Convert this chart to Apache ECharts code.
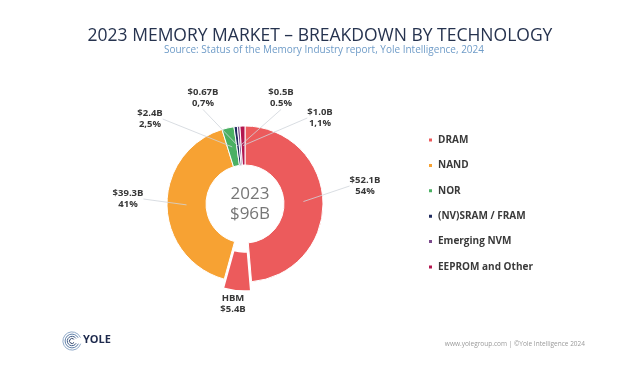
<!DOCTYPE html>
<html>
<head>
<meta charset="utf-8">
<script src="https://cdn.jsdelivr.net/npm/echarts@6/dist/echarts.min.js"></script>
<style>
html, body { margin: 0; padding: 0; background: #fff; }
#chart { width: 620px; height: 366px; }
</style>
</head>
<body>
<div id="chart"></div>
<script>
// market breakdown, values in $B
const categories = ['DRAM', 'NAND', 'NOR', '(NV)SRAM / FRAM', 'Emerging NVM', 'EEPROM and Other']
const revenueB = [52.1, 39.3, 2.4, 0.67, 0.5, 1.0]
const revenueText = ['$52.1B', '$39.3B', '$2.4B', '$0.67B', '$0.5B', '$1.0B']
const shareText = ['54%', '41%', '2,5%', '0,7%', '0.5%', '1,1%']
const hbmName = 'HBM'
const hbmB = 5.4
const hbmText = '$5.4B'
const yearText = '2023'
const totalText = '$96B'

const colors = ['#ec5b5c', '#f7a233', '#4bb063', '#1f2b5e', '#7b4a8c', '#b3164f']

// pie geometry (px)
const cx = 245, cy = 204, rIn = 39, rOut = 78
const rMid = (rIn + rOut) / 2

// where each label sits (label centre)
const labelSpots = {
  'DRAM': [365, 186],
  'HBM': [233, 304],
  'NAND': [128, 199],
  'NOR': [150, 119],
  '(NV)SRAM / FRAM': [203, 98],
  'Emerging NVM': [281, 98],
  'EEPROM and Other': [320, 118]
}

// DRAM slice drawn without HBM, HBM pulled out next to it
function makeSlices(clear) {
  const out = [
    { name: categories[0], value: +(revenueB[0] - hbmB).toFixed(2), txt: revenueText[0] + '\n' + shareText[0] },
    { name: hbmName, value: hbmB, selected: !clear, labelLine: { show: false }, txt: hbmName + '\n' + hbmText }
  ]
  for (let i = 1; i < categories.length; i++) {
    out.push({ name: categories[i], value: revenueB[i], txt: revenueText[i] + '\n' + shareText[i] })
  }
  out.forEach((d, i) => {
    const c = i < 2 ? colors[0] : colors[i - 1]
    d.itemStyle = { color: clear ? 'rgba(0,0,0,0)' : c }
  })
  return out
}
const slices = makeSlices(false)
const overlay = makeSlices(true)

const pieBase = {
  type: 'pie',
  center: [cx, cy],
  startAngle: 90,
  clockwise: true,
  selectedMode: 'single',
  selectedOffset: 9,
  avoidLabelOverlap: false,
  emphasis: { disabled: true }
}

const chart = echarts.init(document.getElementById('chart'))
chart.setOption({
  animation: false,
  title: [
    {
      text: '2023 MEMORY MARKET – BREAKDOWN BY TECHNOLOGY',
      left: 315, top: 22, textAlign: 'center',
      textStyle: { fontFamily: '"Open Sans", sans-serif', fontSize: 17.5, fontWeight: 500, color: '#26334f' }
    },
    {
      text: 'Source: Status of the Memory Industry report, Yole Intelligence, 2024',
      left: 319, top: 40, textAlign: 'center',
      textStyle: { fontFamily: '"Open Sans", sans-serif', fontSize: 10, fontWeight: 'normal', color: '#6f9cc8' }
    },
    {
      text: yearText + '\n' + totalText,
      left: cx, top: 179, textAlign: 'center',
      textStyle: { fontFamily: '"Open Sans", sans-serif', fontSize: 17, lineHeight: 20, fontWeight: 'normal', color: '#767676' }
    }
  ],
  legend: {
    orient: 'vertical',
    left: 427, top: 134,
    padding: 0,
    data: categories,
    icon: 'rect',
    itemWidth: 5, itemHeight: 5,
    itemGap: 13.4,
    selectedMode: false,
    textStyle: { fontFamily: '"Open Sans", sans-serif', fontSize: 10, lineHeight: 12, fontWeight: 'bold', color: '#3a3a3a' }
  },
  series: [
    Object.assign({}, pieBase, {
      z: 2,
      radius: [rIn, rOut],
      itemStyle: { borderColor: '#fff', borderWidth: 1 },
      select: { itemStyle: { borderColor: '#fff', borderWidth: 1.5 } },
      label: { show: false },
      labelLine: { show: false },
      data: slices
    }),
    // see-through copy reaching only to mid-ring, drawn on top, so the leader lines end inside the ring
    Object.assign({}, pieBase, {
      z: 5,
      radius: [rIn, rMid],
      silent: true,
      itemStyle: { borderWidth: 0 },
      label: {
        position: 'outside',
        formatter: p => overlay[p.dataIndex].txt,
        fontFamily: '"Open Sans", sans-serif',
        fontSize: 9.5, lineHeight: 11.5, fontWeight: 'bold', color: '#383838',
        align: 'center'
      },
      labelLine: { show: true, length: 0, length2: 0, lineStyle: { color: '#cfd4db', width: 0.8 } },
      labelLayout: function (p) {
        const spot = labelSpots[overlay[p.dataIndex].name]
        return { x: spot[0], y: spot[1], align: 'center', verticalAlign: 'middle' }
      },
      data: overlay
    })
  ],
  graphic: [
    { type: 'arc', shape: { cx: 72, cy: 341, r: 2.5, startAngle: 0.6, endAngle: 5.6 }, style: { stroke: '#2a3f66', fill: null, lineWidth: 1 } },
    { type: 'arc', shape: { cx: 72, cy: 341, r: 4.7, startAngle: 0.5, endAngle: 5.7 }, style: { stroke: '#3d5a85', fill: null, lineWidth: 1 } },
    { type: 'arc', shape: { cx: 72, cy: 341, r: 6.9, startAngle: 0.4, endAngle: 5.8 }, style: { stroke: '#5d7ea8', fill: null, lineWidth: 1 } },
    { type: 'arc', shape: { cx: 72, cy: 341, r: 9.1, startAngle: 0.3, endAngle: 5.9 }, style: { stroke: '#8fa9c8', fill: null, lineWidth: 1 } },
    { type: 'text', left: 83, top: 334, style: { text: 'YOLE', font: 'bold 11px "Open Sans", sans-serif', fill: '#1f2b4e' } },
    { type: 'text', right: 35, top: 341, style: { text: 'www.yolegroup.com | ©Yole Intelligence 2024', font: '6.5px "Open Sans", sans-serif', fill: '#9a9a9a' } }
  ]
})
</script>
</body>
</html>
